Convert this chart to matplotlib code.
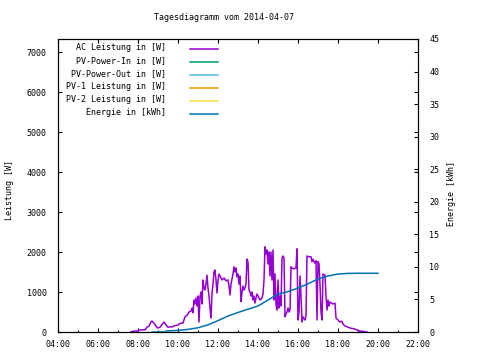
import matplotlib
matplotlib.use("Agg")
import matplotlib.pyplot as plt
from matplotlib.lines import Line2D
from matplotlib.ticker import FuncFormatter, MultipleLocator

title = "Tagesdiagramm vom 2014-04-07"
legend_labels = ["AC Leistung in [W]", "PV-Power-In in [W]", "PV-Power-Out in [W]",
                 "PV-1 Leistung in [W]", "PV-2 Leistung in [W]", "Energie in [kWh]"]
legend_colors = ["#9400d3", "#009e73", "#56b4e9", "#e69f00", "#f0e442", "#0072b2"]

# AC Leistung (Uhrzeit in Stunden, Watt)
ac_hours = [7.65, 7.75, 8.0, 8.05, 8.35, 8.45, 8.55, 8.65, 8.7, 8.8, 8.9, 8.95, 9.0, 9.1,
            9.2, 9.3, 9.4, 9.5, 9.6, 9.7, 9.8, 9.9, 10.0, 10.1, 10.25, 10.35, 10.45, 10.55,
            10.65, 10.7, 10.75, 10.8, 10.85, 10.9, 10.95, 11.0, 11.05, 11.1, 11.15, 11.2,
            11.25, 11.3, 11.35, 11.4, 11.45, 11.5, 11.55, 11.6, 11.65, 11.7, 11.75, 11.8,
            11.85, 11.9, 11.95, 12.0, 12.05, 12.1, 12.2, 12.3, 12.4, 12.5, 12.55, 12.6,
            12.65, 12.75, 12.8, 12.85, 12.9, 12.95, 13.0, 13.05, 13.1, 13.15, 13.2, 13.25,
            13.3, 13.35, 13.4, 13.45, 13.5, 13.55, 13.6, 13.65, 13.7, 13.75, 13.8, 13.85,
            13.9, 13.95, 14.0, 14.1, 14.2, 14.25, 14.3, 14.35, 14.4, 14.45, 14.5, 14.55,
            14.6, 14.65, 14.7, 14.75, 14.8, 14.85, 14.9, 14.95, 15.0, 15.05, 15.1, 15.15,
            15.2, 15.25, 15.3, 15.35, 15.4, 15.45, 15.5, 15.55, 15.6, 15.65, 15.7, 15.8,
            15.9, 15.95, 16.0, 16.05, 16.1, 16.15, 16.2, 16.25, 16.35, 16.4, 16.45, 16.55,
            16.65, 16.7, 16.75, 16.85, 16.9, 16.95, 17.0, 17.05, 17.1, 17.15, 17.2, 17.25,
            17.35, 17.4, 17.45, 17.5, 17.55, 17.6, 17.75, 17.85, 17.9, 18.0, 18.1, 18.2,
            18.25, 18.35, 18.45, 18.6, 18.8, 18.95, 19.1, 19.25, 19.45]
ac_watts = [0, 20, 25, 50, 55, 120, 150, 250, 275, 220, 150, 110, 100, 120,
            190, 250, 175, 120, 130, 125, 150, 165, 175, 215, 225, 380, 420, 500,
            520, 600, 480, 800, 700, 850, 650, 900, 250, 880, 1000, 700,
            1300, 1100, 1050, 1200, 1420, 1100, 900, 600, 350, 950, 1200, 1500,
            1550, 1300, 975, 1300, 1450, 1400, 1300, 1350, 1280, 1300, 1150, 925,
            1200, 1450, 1630, 1500, 1600, 1380, 1450, 1200, 1400, 760, 1000, 1150,
            1050, 1100, 1200, 1825, 1750, 1050, 1000, 900, 1000, 800, 900, 725,
            850, 950, 900, 800, 850, 950, 1300, 2130, 1950, 2050, 1700, 2000,
            1400, 2000, 1300, 2050, 800, 1450, 700, 550, 1300, 600, 900, 650,
            1850, 1900, 1850, 380, 450, 500, 600, 500, 550, 1630, 1600, 1580,
            1600, 2080, 300, 500, 1400, 900, 250, 380, 300, 400, 1900, 1880,
            1880, 1750, 1820, 1720, 1780, 300, 1760, 1700, 1200, 500, 300, 1450,
            1420, 900, 550, 800, 650, 750, 700, 720, 350, 300, 250, 270,
            200, 150, 130, 100, 80, 50, 25, 15, 0]

# Energie (Uhrzeit in Stunden, kWh)
energy_hours = [8.7, 9.35, 9.4, 10.0, 10.5, 11.0, 11.5, 12.0, 12.5, 13.0, 13.5, 14.0,
                14.5, 15.0, 15.5, 16.0, 16.5, 17.0, 17.5, 18.0, 18.5, 19.0, 20.0]
energy_kwh = [0, 0, 0.15, 0.25, 0.4, 0.65, 1.1, 1.75, 2.45, 3.0, 3.5, 4.0,
              4.9, 5.85, 6.2, 6.75, 7.4, 8.15, 8.6, 8.9, 9.0, 9.02, 9.02]

plt.rcParams['font.family'] = ['DejaVu Sans Mono']
fs = 6

fig = plt.figure(figsize=(4.8, 3.6), dpi=100)
ax = fig.add_axes([58 / 480, 28 / 360, 360 / 480, 293 / 360])
ax2 = ax.twinx()

ax.plot(ac_hours, ac_watts, color=legend_colors[0], lw=1.1)
ax2.plot(energy_hours, energy_kwh, color=legend_colors[5], lw=1.1)

ax.set_xlim(4, 22)
ax.set_ylim(0, 7325)
ax2.set_ylim(0, 45)

ax.xaxis.set_major_locator(MultipleLocator(2))
ax.xaxis.set_minor_locator(MultipleLocator(1))
ax.xaxis.set_major_formatter(FuncFormatter(lambda h, p: "%02d:00" % int(round(h))))
ax.yaxis.set_major_locator(MultipleLocator(1000))
ax2.yaxis.set_major_locator(MultipleLocator(5))

ax.tick_params(axis='x', which='major', direction='in', length=3, width=0.8,
               top=True, labelsize=fs, pad=6)
ax.tick_params(axis='x', which='minor', direction='in', length=1.5, width=0.8,
               top=False)
ax.tick_params(axis='y', which='major', direction='in', length=3, width=0.8,
               right=True, labelsize=fs, pad=8)
ax2.tick_params(axis='y', direction='in', length=3, width=0.8, labelsize=fs, pad=8)

for a in (ax, ax2):
    for s in a.spines.values():
        s.set_linewidth(0.8)

fig.text(224 / 480, 1 - 18 / 360, title, ha='center', va='center', fontsize=fs)
fig.text(10 / 480, 1 - 190 / 360, "Leistung [W]", rotation=90, ha='center',
         va='center', fontsize=fs)
fig.text(452 / 480, 1 - 194 / 360, "Energie [kWh]", rotation=90, ha='center',
         va='center', fontsize=fs)

# Legende oben links, Text rechtsbuendig vor der Linie
for i, (lab, col) in enumerate(zip(legend_labels, legend_colors)):
    y = 49.3 + i * 13
    fig.text(166 / 480, 1 - (y - 1.5) / 360, lab, ha='right', va='center', fontsize=fs)
    fig.add_artist(Line2D([190 / 480, 218 / 480], [1 - y / 360, 1 - y / 360],
                          color=col, lw=1.1))

fig.savefig("out.png", dpi=100)
